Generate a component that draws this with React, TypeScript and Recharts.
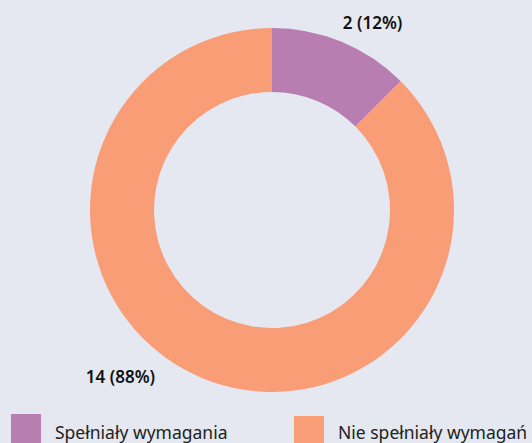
import React from 'react';
import { PieChart, Pie, Cell, Legend } from 'recharts';

const categories = ['Spełniały wymagania', 'Nie spełniały wymagań'];
const counts = [2, 14];
const percents = [12, 88];
const colors = ['#b87db1', '#f99d77'];

const data = categories.map((name, i) => ({ name, value: counts[i], pct: percents[i] }));

const RADIAN = Math.PI / 180;

function renderLabel(props: any) {
  const { cx, cy, midAngle, outerRadius, index } = props;
  const r = outerRadius + 18;
  const x = cx + r * Math.cos(-midAngle * RADIAN);
  const y = cy + r * Math.sin(-midAngle * RADIAN);
  const right = x > cx;
  const dx = right ? 24 : -75;
  const dy = right ? -3 : -18;
  const d = data[index];
  return (
    <text
      x={x + dx}
      y={y + dy}
      textAnchor="middle"
      dominantBaseline="central"
      fill="#111"
      fontSize={17}
      fontWeight={600}
      fontFamily="'Noto Sans', sans-serif"
    >
      {`${d.value} (${d.pct}%)`}
    </text>
  );
}

// payload order from recharts is not guaranteed, so build legend from our arrays
function renderLegend() {
  return (
    <div style={{ display: 'flex', fontFamily: "'Noto Sans', sans-serif", fontSize: 17.5, color: '#222' }}>
      {categories.map((name, i) => (
        <div key={name} style={{ display: 'flex', flex: 'none', alignItems: 'flex-start', width: 283, paddingLeft: 11, boxSizing: 'border-box' }}>
          <span style={{ width: 30, height: 30, background: colors[i], display: 'inline-block', flex: 'none', marginTop: i === 0 ? 0 : 2 }} />
          <span style={{ marginLeft: 14, marginTop: 6, whiteSpace: 'nowrap' }}>{name}</span>
        </div>
      ))}
    </div>
  );
}

export default function App() {
  return (
    <div style={{ position: 'fixed', left: 0, top: 0, width: 532, height: 443, background: '#e5e8f0', overflow: 'hidden' }}>
      <PieChart width={532} height={443} margin={{ top: 0, right: 0, bottom: 0, left: 0 }}>
        <Pie
          data={data}
          dataKey="value"
          nameKey="name"
          cx={272}
          cy={210}
          innerRadius={118}
          outerRadius={182}
          startAngle={90}
          endAngle={-270}
          stroke="none"
          label={renderLabel}
          labelLine={false}
          isAnimationActive={false}
        >
          {data.map((d, i) => (
            <Cell key={d.name} fill={colors[i]} />
          ))}
        </Pie>
        <Legend
          content={renderLegend}
          wrapperStyle={{ position: 'absolute', left: 0, top: 414, width: 532, overflow: 'hidden' }}
        />
      </PieChart>
    </div>
  );
}
